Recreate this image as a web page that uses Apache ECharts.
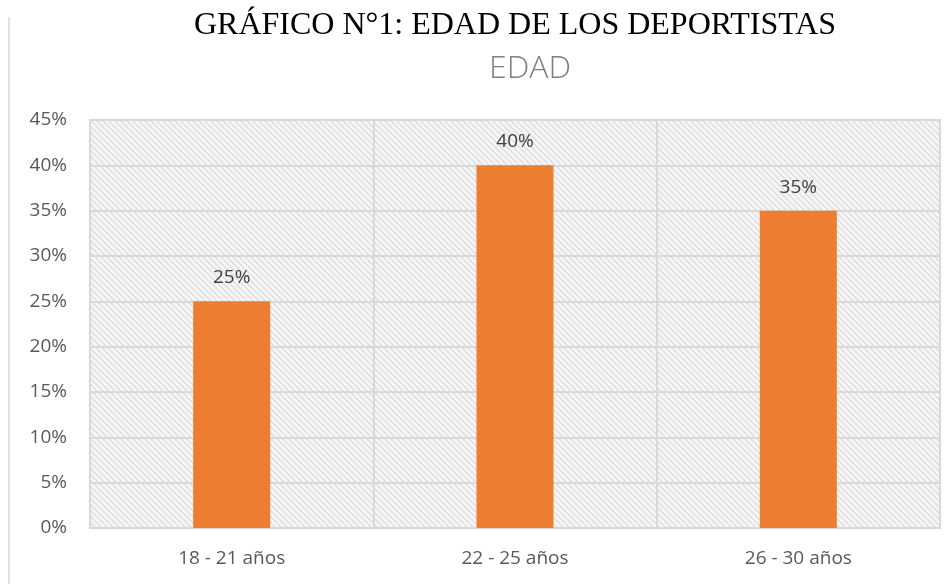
<!DOCTYPE html>
<html>
<head>
<meta charset="utf-8">
<script src="https://cdn.jsdelivr.net/npm/echarts@6/dist/echarts.min.js"></script>
<style>
  html, body { margin: 0; padding: 0; background: #fff; }
  #chart { width: 952px; height: 584px; }
</style>
</head>
<body>
<div id="chart"></div>
<script>
// datos del gráfico
const categories = ['18 - 21 años', '22 - 25 años', '26 - 30 años']
const values = [25, 40, 35]
const yTicks = [0, 5, 10, 15, 20, 25, 30, 35, 40, 45]

// trama diagonal del fondo del área de trazado
const makeHatch = () => {
  const c = document.createElement('canvas')
  c.width = 6
  c.height = 6
  const ctx = c.getContext('2d')
  ctx.fillStyle = '#f7f7f7'
  ctx.fillRect(0, 0, 6, 6)
  ctx.strokeStyle = '#e0e0e0'
  ctx.lineWidth = 1.6
  ctx.beginPath()
  ctx.moveTo(-1, -1); ctx.lineTo(7, 7)
  ctx.moveTo(-7, -1); ctx.lineTo(1, 7)
  ctx.moveTo(5, -1); ctx.lineTo(13, 7)
  ctx.stroke()
  return c
}

const chart = echarts.init(document.getElementById('chart'))

const labelFont = '"Open Sans", "Noto Sans", sans-serif'

chart.setOption({
  animation: false,
  title: [
    {
      text: 'GRÁFICO N°1: EDAD DE LOS DEPORTISTAS',
      left: 510,
      top: 5,
      textAlign: 'center',
      textStyle: { fontFamily: '"Liberation Serif", serif', fontSize: 32, fontWeight: 'normal', color: '#000' },
    },
    {
      text: 'EDAD',
      left: 525,
      top: 48,
      textAlign: 'center',
      textStyle: { fontFamily: labelFont, fontSize: 32, fontWeight: 300, color: '#7f7f7f' },
    },
  ],
  graphic: [
    {
      type: 'line',
      shape: { x1: 9, y1: 17, x2: 9, y2: 584 },
      style: { stroke: '#d9d9d9', lineWidth: 1.5 },
    },
  ],
  grid: {
    left: 90,
    right: 12,
    top: 120,
    bottom: 56,
    show: true,
    borderColor: '#d9d9d9',
    borderWidth: 2,
    backgroundColor: { image: makeHatch(), repeat: 'repeat' },
  },
  xAxis: {
    type: 'category',
    data: categories,
    axisLine: { show: false },
    axisTick: { show: false },
    axisLabel: { color: '#595959', fontSize: 19, fontFamily: labelFont, margin: 21 },
    splitLine: { show: true, interval: 0, lineStyle: { color: '#d9d9d9', width: 2 } },
  },
  yAxis: {
    type: 'value',
    min: yTicks[0],
    max: yTicks[yTicks.length - 1],
    interval: 5,
    axisLine: { show: false },
    axisTick: { show: false },
    axisLabel: { color: '#595959', fontSize: 19, fontFamily: labelFont, margin: 23, formatter: '{value}%' },
    splitLine: { lineStyle: { color: '#d9d9d9', width: 2 } },
  },
  series: [
    {
      type: 'bar',
      data: values,
      barWidth: 77,
      itemStyle: { color: '#ed7d31' },
      label: {
        show: true,
        position: 'top',
        distance: 14,
        formatter: '{c}%',
        color: '#404040',
        fontSize: 19,
        fontFamily: labelFont,
      },
    },
  ],
})
</script>
</body>
</html>
